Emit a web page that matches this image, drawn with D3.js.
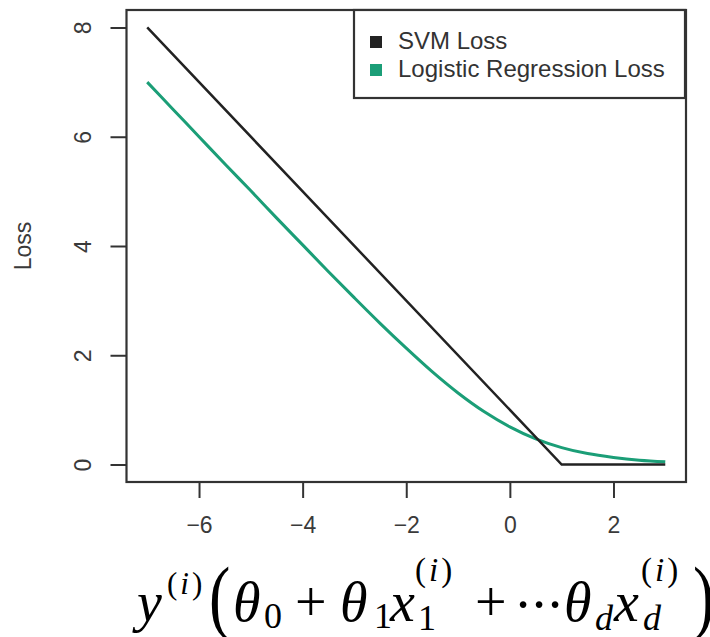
<!DOCTYPE html>
<html><head><meta charset="utf-8">
<script src="https://cdn.jsdelivr.net/npm/d3@7"></script>
<style>body{margin:0;background:#fff}svg{display:block}</style>
</head><body>
<script>
// ---- data ----
const svmX = [-7, 1, 3];
const svmY = [8, 0, 0];
const logX = [-7, -6.5, -6, -5.5, -5, -4.5, -4, -3.5, -3, -2.5, -2, -1.5, -1, -0.5, 0, 0.5, 1, 1.5, 2, 2.5, 3];
const logY = [7.0, 6.5, 6.0, 5.5, 5.01, 4.51, 4.02, 3.53, 3.05, 2.58, 2.13, 1.70, 1.31, 0.97, 0.69, 0.47, 0.31, 0.20, 0.13, 0.08, 0.05];
const xTicks = [-6, -4, -2, 0, 2];
const yTicks = [0, 2, 4, 6, 8];
const seriesNames = ["SVM Loss", "Logistic Regression Loss"];
const seriesColors = ["#222222", "#1b9e77"];

const W = 710, H = 637;
const svg = d3.select("body").append("svg").attr("width", W).attr("height", H);

const x = d3.scaleLinear().domain([-7.4, 3.4]).range([126.5, 686]);
const y = d3.scaleLinear().domain([-0.32, 8.32]).range([482, 10]);

const axisCol = "#333";
const labCol = "#3a3a3a";
const tickFont = "Liberation Sans, Arial, sans-serif";
const FS = 23;

// x axis
const xAxis = svg.append("g").attr("transform", `translate(0,${y.range()[0]})`)
  .call(d3.axisBottom(x).tickValues(xTicks).tickSize(16).tickPadding(19)
    .tickFormat(d => d < 0 ? "\u2212" + Math.abs(d) : d));
xAxis.select(".domain").remove();
xAxis.selectAll("line").attr("stroke", axisCol).attr("stroke-width", 2);
xAxis.selectAll("text").attr("fill", labCol).style("font-family", tickFont).style("font-size", FS + "px");

// y axis
const yAxis = svg.append("g").attr("transform", `translate(${x.range()[0]},0)`)
  .call(d3.axisLeft(y).tickValues(yTicks).tickSize(16).tickPadding(0).tickFormat(d3.format("d")));
yAxis.select(".domain").remove();
yAxis.selectAll("line").attr("stroke", axisCol).attr("stroke-width", 2);
yAxis.selectAll("text").attr("fill", labCol).style("font-family", tickFont).style("font-size", FS + "px")
  .attr("text-anchor", "middle").attr("x", 0).attr("y", 0).attr("dy", 0)
  .attr("transform", "translate(-36,0) rotate(-90)");

// y label
svg.append("text").attr("transform", `translate(31,${(y.range()[0] + y.range()[1]) / 2}) rotate(-90)`)
  .attr("text-anchor", "middle").attr("fill", labCol)
  .style("font-family", tickFont).style("font-size", FS + "px").text("Loss");

// lines
svg.append("path").datum(d3.zip(logX, logY)).attr("fill", "none")
  .attr("stroke", seriesColors[1]).attr("stroke-width", 3)
  .attr("d", d3.line().x(d => x(d[0])).y(d => y(d[1])).curve(d3.curveMonotoneX));
svg.append("path").datum(d3.zip(svmX, svmY)).attr("fill", "none")
  .attr("stroke", seriesColors[0]).attr("stroke-width", 2.5)
  .attr("d", d3.line().x(d => x(d[0])).y(d => y(d[1])));

// plot box
svg.append("rect").attr("x", x.range()[0]).attr("y", y.range()[1])
  .attr("width", x.range()[1] - x.range()[0]).attr("height", y.range()[0] - y.range()[1])
  .attr("fill", "none").attr("stroke", axisCol).attr("stroke-width", 2.2);

// legend
const lg = svg.append("g");
lg.append("rect").attr("x", 354).attr("y", 10).attr("width", 331).attr("height", 88)
  .attr("fill", "#fff").attr("stroke", axisCol).attr("stroke-width", 2.2);
seriesNames.forEach((n, i) => {
  lg.append("rect").attr("x", 370).attr("y", 36 + i * 28).attr("width", 12).attr("height", 12)
    .attr("fill", seriesColors[i]);
  lg.append("text").attr("x", 398).attr("y", 49 + i * 28).attr("fill", "#333")
    .style("font-family", tickFont).style("font-size", "24px").text(n);
});

// formula
const F = svg.append("g").attr("fill", "#000").style("font-family", "Liberation Serif, Times New Roman, serif");
function t(txt, px, py, size, italic, tr) {
  const e = F.append("text").style("font-size", size + "px")
    .style("font-style", italic ? "italic" : "normal").text(txt);
  if (tr) e.attr("transform", `translate(${px},${py}) ${tr}`);
  else e.attr("x", px).attr("y", py);
  return e;
}
function sup(px, py, size) {
  const e = F.append("text").attr("x", px).attr("y", py).style("font-size", size + "px")
    .style("letter-spacing", "3px");
  e.append("tspan").text("(");
  e.append("tspan").style("font-style", "italic").text("i");
  e.append("tspan").text(")");
}
const B = 621, M = 56, S = 36;
t("y", 137, B, M, true);
sup(167, 594, 31);
t("(", 209, 624, 64, false, "scale(1,1.3)");
t("\u03B8", 233, B, M, true); t("0", 264, 628, S, false);
t("+", 295, B, M, false);
t("\u03B8", 340, B, M, true); t("1", 374, 628, S, false);
t("x", 390, B, M, true);
sup(415, 581, 33);
t("1", 418, 630, S, false);
t("+", 475, B, M, false);
[523, 539, 555].forEach(cx => {
  F.append("text").attr("x", cx).attr("y", 624).attr("text-anchor", "middle")
    .style("font-size", M + "px").text("\u00B7");
});
t("\u03B8", 564, B, M, true); t("d", 595, 630, S, true);
t("x", 614, B, M, true);
sup(641, 581, 33);
t("d", 643, 630, S, true);
t(")", 693, 624, 64, false, "scale(1,1.3)");
</script>
</body></html>
